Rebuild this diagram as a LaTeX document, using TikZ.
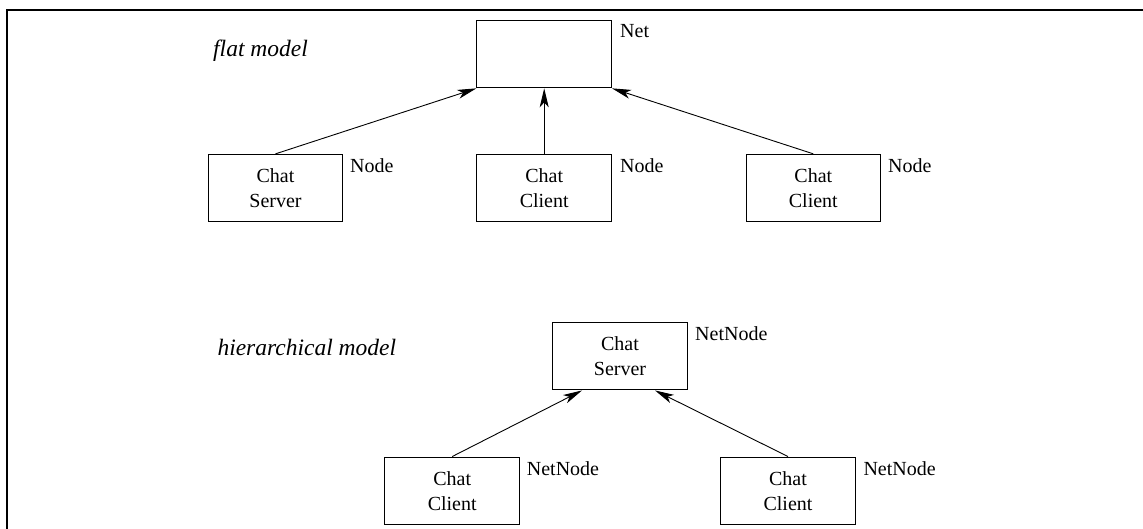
\documentclass[tikz,border=0pt]{standalone}
\usepackage{fontspec}
\setmainfont{Liberation Serif}
\usetikzlibrary{arrows.meta,calc}
\begin{document}
\begin{tikzpicture}[x=1pt,y=-1pt,
  box/.style={draw,line width=1pt,minimum width=134.6pt,minimum height=67.3pt,inner sep=0pt,
    align=center,font=\fontsize{20}{25}\selectfont},
  lbl/.style={anchor=base west,inner sep=0pt,font=\fontsize{20}{25}\selectfont},
  title/.style={anchor=base west,inner sep=0pt,font=\fontsize{23.5}{28}\selectfont\itshape},
  conn/.style={line width=0.9pt,-{Stealth[length=19pt,width=9pt,inset=5pt]}}]
\useasboundingbox (0,0) rectangle (1143,529);
\fill[white] (0,0) rectangle (1143,529);
% frame
\draw[line width=2pt] (1143,10) -- (7,10) -- (7,529);
% flat model
\node[title] (tflat) at (213,56.7) {flat model};
\node[box] (net) at (544.2,54.2) {};
\node[box] (srv1) at (275.5,188) {Chat\\Server};
\node[box] (cli1) at (544.2,188) {Chat\\Client};
\node[box] (cli2) at (813.3,188) {Chat\\Client};
\node[lbl] (lnet) at (620,37.3) {Net};
\node[lbl] (ln1) at (350,172.7) {Node};
\node[lbl] (ln2) at (620,172.7) {Node};
\node[lbl] (ln3) at (888,172.7) {Node};
\draw[conn] (srv1.north) -- (net.south west);
\draw[conn] (cli1.north) -- (net.south);
\draw[conn] (cli2.north) -- (net.south east);
% hierarchical model
\node[title] (thier) at (217.3,355) {hierarchical model};
\node[box] (srv2) at (620,356.3) {Chat\\Server};
\node[box] (cli3) at (452.2,490.7) {Chat\\Client};
\node[box] (cli4) at (788,490.7) {Chat\\Client};
\node[lbl] (ln4) at (695,340.7) {NetNode};
\node[lbl] (ln5) at (526.7,475) {NetNode};
\node[lbl] (ln6) at (863.3,475) {NetNode};
\coordinate (s2l) at ($(srv2.south)+(-38,0)$);
\coordinate (s2r) at ($(srv2.south)+(35,0)$);
\draw[conn] (cli3.north) -- (s2l);
\draw[conn] (cli4.north) -- (s2r);
\end{tikzpicture}
\end{document}
